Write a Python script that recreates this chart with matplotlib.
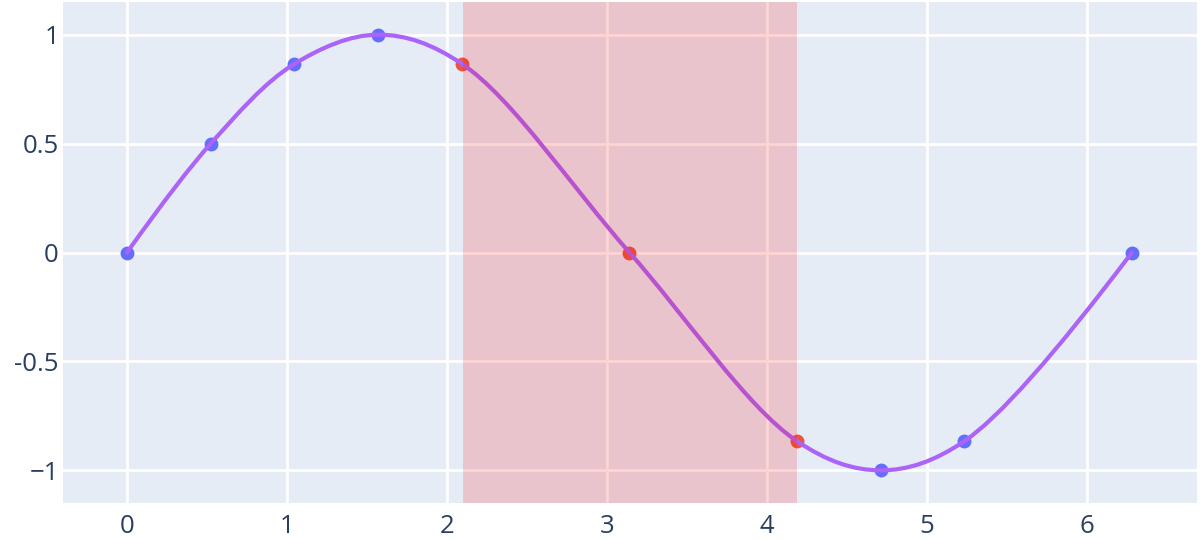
import numpy as np
import matplotlib
matplotlib.use('Agg')
import matplotlib.pyplot as plt
from matplotlib.path import Path
from matplotlib.patches import PathPatch

plt.rcParams['font.family'] = ['Open Sans', 'DejaVu Sans']

# Data
x_pts = [0.0, 0.5236, 1.0472, 1.5708, 2.0944, 3.1416, 4.1888, 4.7124, 5.2360, 6.2832]
y_pts = [0.0, 0.5, 0.866, 1.0, 0.866, 0.0, -0.866, -1.0, -0.866, 0.0]
sel_range = [2.1, 4.19]

x_ticks = [0, 1, 2, 3, 4, 5, 6]
y_ticks = [-1, -0.5, 0, 0.5, 1]
y_ticklabels = ['\u22121', '-0.5', '0', '0.5', '1']

blue = '#636EFA'
red = '#EF553B'
purple = '#AB63FA'

fig = plt.figure(figsize=(12, 5.4), dpi=100)
ax = fig.add_axes([63/1200, 37/540, 1134/1200, 501/540])
ax.set_facecolor('#E5ECF6')
for s in ax.spines.values():
    s.set_visible(False)

ax.set_xlim(-0.4, 6.69)
ax.set_ylim(-1.15, 1.15)
ax.set_xticks(x_ticks)
ax.set_yticks(y_ticks)
ax.set_yticklabels(y_ticklabels)
ax.tick_params(length=0, labelsize=18.5, colors='#2a3f5f')
ax.tick_params(axis='y', pad=3)
ax.tick_params(axis='x', pad=8)
ax.grid(True, color='white', linewidth=2)
ax.set_axisbelow(True)

# markers, coloured by selection (points 2pi/3 .. 4pi/3 are selected)
xs = np.array(x_pts)
ys = np.array(y_pts)
inside = (xs >= 2.09) & (xs <= 4.19)
ax.scatter(xs[~inside], ys[~inside], s=100, color=blue, zorder=3, linewidths=0)
ax.scatter(xs[inside], ys[inside], s=100, color=red, zorder=3, linewidths=0)

# plotly-style spline through the points, tangents worked out in pixel space
sx, sy = 160.0, 218.0
pts = np.column_stack([xs * sx, ys * sy])

def make_tangent(prev, cur, nxt, smooth=1.0):
    d1 = prev - cur
    d2 = nxt - cur
    d1a = np.hypot(*d1) ** 0.5
    d2a = np.hypot(*d2) ** 0.5
    num = (d2a * d2a * d1 - d1a * d1a * d2) * smooth
    den1 = 3 * d2a * (d1a + d2a)
    den2 = 3 * d1a * (d1a + d2a)
    return cur + num / den1, cur - num / den2

tans = [make_tangent(pts[i - 1], pts[i], pts[i + 1]) for i in range(1, len(pts) - 1)]
verts = [pts[0], tans[0][0], pts[1]]
codes = [Path.MOVETO, Path.CURVE3, Path.CURVE3]
for i in range(2, len(pts) - 1):
    verts += [tans[i - 2][1], tans[i - 1][0], pts[i]]
    codes += [Path.CURVE4] * 3
verts += [tans[-1][1], pts[-1]]
codes += [Path.CURVE3, Path.CURVE3]
verts = np.array(verts) / [sx, sy]
ax.add_patch(PathPatch(Path(verts, codes), fill=False, edgecolor=purple,
                       linewidth=3, zorder=4, capstyle='round'))

# selection rectangle drawn above
ax.axvspan(sel_range[0], sel_range[1], color='red', alpha=0.17, linewidth=0, zorder=5)

fig.savefig('out.png', dpi=100, facecolor='white')
